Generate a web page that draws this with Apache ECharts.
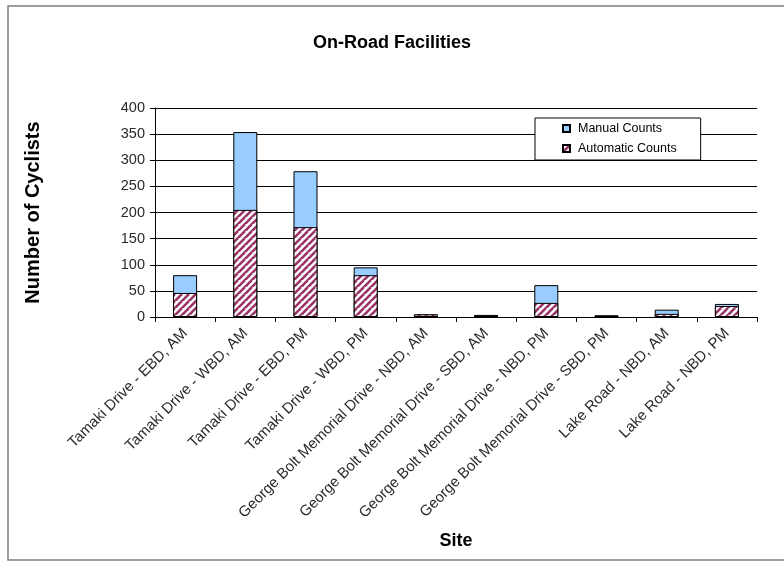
<!DOCTYPE html>
<html>
<head>
<meta charset="utf-8">
<script src="https://cdn.jsdelivr.net/npm/echarts@6/dist/echarts.min.js"></script>
<style>html,body{margin:0;padding:0;background:#fff}#c{width:784px;height:566px}</style>
</head>
<body>
<div id="c"></div>
<script>
var categories = [
  "Tamaki Drive - EBD, AM",
  "Tamaki Drive - WBD, AM",
  "Tamaki Drive - EBD, PM",
  "Tamaki Drive - WBD, PM",
  "George Bolt Memorial Drive - NBD, AM",
  "George Bolt Memorial Drive - SBD, AM",
  "George Bolt Memorial Drive - NBD, PM",
  "George Bolt Memorial Drive - SBD, PM",
  "Lake Road - NBD, AM",
  "Lake Road - NBD, PM"
];
var manualCounts = [80, 354, 279, 95, 5, 4, 61, 3, 14, 25];
var automaticCounts = [46, 205, 172, 80, 5, 3, 27, 3, 6, 21];
var yTicks = [0, 50, 100, 150, 200, 250, 300, 350, 400];

function hatch() {
  var s = 7;
  var cv = document.createElement('canvas');
  cv.width = s; cv.height = s;
  var ctx = cv.getContext('2d');
  ctx.fillStyle = '#ffffff';
  ctx.fillRect(0, 0, s, s);
  ctx.strokeStyle = '#993366';
  ctx.lineWidth = 2.6;
  ctx.beginPath();
  ctx.moveTo(-2, s + 2); ctx.lineTo(s + 2, -2);
  ctx.moveTo(-s, s); ctx.lineTo(0, 0);
  ctx.moveTo(0, 2 * s); ctx.lineTo(2 * s, 0);
  ctx.stroke();
  return cv;
}
var pat = {image: hatch(), repeat: 'repeat'};

var chart = echarts.init(document.getElementById('c'), null, {renderer: 'canvas'});
var font = 'Liberation Sans, Arial, sans-serif';
chart.setOption({
  animation: false,
  backgroundColor: '#fff',
  textStyle: {fontFamily: font},
  title: {
    text: 'On-Road Facilities', left: 'center', top: 29,
    textStyle: {fontFamily: font, fontSize: 18, fontWeight: 'bold', color: '#000'}
  },
  graphic: [{
    type: 'rect', shape: {x: 8, y: 6, width: 790, height: 554},
    style: {fill: 'none', stroke: '#7f7f7f', lineWidth: 1.5}, silent: true
  }],
  legend: {
    orient: 'vertical', left: 535, top: 118, width: 163,
    padding: [4, 24, 5, 27],
    backgroundColor: '#fff', borderColor: '#000', borderWidth: 1,
    itemWidth: 7, itemHeight: 7, itemGap: 7,
    textStyle: {fontFamily: font, fontSize: 12.5, color: '#000', padding: [0, 0, 0, 3]},
    data: [
      {name: 'Manual Counts', icon: 'rect'},
      {name: 'Automatic Counts', icon: 'rect'}
    ]
  },
  grid: {left: 155, right: 27, top: 108, bottom: 249, containLabel: false},
  xAxis: {
    type: 'category', data: categories,
    name: 'Site', nameLocation: 'middle', nameGap: 215,
    nameTextStyle: {fontFamily: font, fontSize: 18, fontWeight: 'bold', color: '#000'},
    axisLine: {lineStyle: {color: '#000', width: 1}},
    axisTick: {show: true, length: 5, lineStyle: {color: '#000'}, alignWithLabel: false},
    axisLabel: {rotate: 45, interval: 0, margin: 14, fontFamily: font, fontSize: 15, color: '#2a2a2a'}
  },
  yAxis: {
    type: 'value', min: 0, max: 400, interval: 50,
    name: 'Number of Cyclists', nameLocation: 'middle', nameGap: 112, nameRotate: 90,
    nameTextStyle: {fontFamily: font, fontSize: 20, fontWeight: 'bold', color: '#000'},
    axisLine: {show: true, lineStyle: {color: '#000', width: 1}},
    axisTick: {show: true, length: 5, lineStyle: {color: '#000'}},
    axisLabel: {margin: 10, fontFamily: font, fontSize: 14.5, color: '#2a2a2a'},
    splitLine: {show: true, lineStyle: {color: '#000', width: 1}}
  },
  series: [
    {
      name: 'Manual Counts', type: 'bar', data: manualCounts,
      barWidth: 24, barGap: '-100%',
      itemStyle: {color: '#99CCFF', borderColor: '#000', borderWidth: 1}
    },
    {
      name: 'Automatic Counts', type: 'bar', data: automaticCounts,
      barWidth: 24, barGap: '-100%',
      itemStyle: {color: pat, borderColor: '#000', borderWidth: 1}
    }
  ]
});
</script>
</body>
</html>
